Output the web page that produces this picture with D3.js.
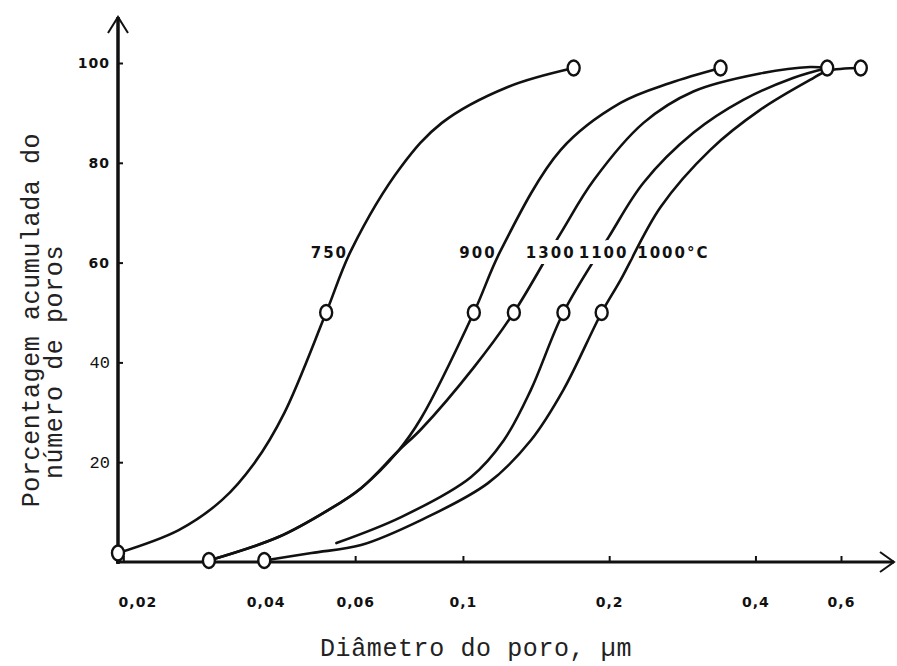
<!DOCTYPE html>
<html>
<head>
<meta charset="utf-8">
<script src="https://cdn.jsdelivr.net/npm/d3@7"></script>
<style>
  body { margin: 0; background: #fff; }
  .tickSans { font-family: "DejaVu Sans", sans-serif; font-weight: bold; font-size: 14px; letter-spacing: 1px; }
  .tickMono { font-family: "Liberation Mono", monospace; font-size: 17px; }
  .aText { font-family: "Liberation Mono", "DejaVu Sans Mono", monospace; font-size: 25px; letter-spacing: 0.6px; fill: #222; }
  .curveLabel { font-family: "DejaVu Sans", sans-serif; font-weight: bold; font-size: 15px; letter-spacing: 2px; fill: #111; }
</style>
</head>
<body>
<div id="chart"></div>
<script>
// tick values
var xTicks = [0.02, 0.04, 0.06, 0.1, 0.2, 0.4, 0.6];
var yTicks = [20, 40, 60, 80, 100];

// curves (diameter in um, cumulative %)
var s750x = [0.0195, 0.026, 0.0319, 0.0372, 0.0429, 0.0523, 0.0589, 0.0746, 0.0905, 0.1237, 0.169];
var s750y = [1.8, 6.4, 12.4, 19.8, 29.9, 50, 62.5, 79.2, 88, 95.2, 99];

var s900x = [0.030, 0.0417, 0.0528, 0.0617, 0.0735, 0.082, 0.1053, 0.1197, 0.159, 0.211, 0.267, 0.339];
var s900y = [0.3, 5, 10.4, 14.8, 22.2, 28.8, 50, 62.5, 82.6, 92, 96, 99];

var s1300x = [0.030, 0.0417, 0.0528, 0.0617, 0.0735, 0.082, 0.1053, 0.1273, 0.159, 0.1858, 0.2353, 0.298, 0.409, 0.518, 0.562];
var s1300y = [0.3, 5, 10.4, 14.8, 22.2, 26.6, 39, 50, 65.9, 76.5, 88, 94.3, 97.9, 99.2, 99];

var s1100x = [0.0549, 0.0746, 0.1038, 0.1214, 0.138, 0.161, 0.1995, 0.2353, 0.298, 0.3776, 0.478, 0.562];
var s1100y = [3.8, 9, 17, 24.4, 34.5, 50, 65.1, 76, 86, 92.6, 97, 99];

var s1000x = [0.039, 0.0488, 0.0617, 0.082, 0.1126, 0.138, 0.161, 0.193, 0.211, 0.255, 0.323, 0.409, 0.518, 0.562, 0.659];
var s1000y = [0.3, 1.8, 3.4, 8.4, 15.8, 24.4, 34.5, 50, 56.5, 71.1, 82.6, 90.6, 96.6, 98.4, 99];

// open circles
var markerX = [0.0195, 0.0523, 0.169, 0.030, 0.1053, 0.339, 0.1273, 0.161, 0.562, 0.039, 0.193, 0.659];
var markerY = [1.8, 50, 99, 0.3, 50, 99, 50, 50, 99, 0.3, 50, 99];

// curve labels
var labelText = ["750", "900", "1300", "1100", "1000°C"];
var labelX = [0.0531, 0.1074, 0.1516, 0.1948, 0.2711];
var labelY = [61, 61, 61, 61, 61];
var gapLabels = ["1300", "1100"];

var svgWidth = 897;
var svgHeight = 666;

var svg = d3.select("#chart")
  .append("svg")
  .attr("width", svgWidth)
  .attr("height", svgHeight)
  .style("background", "#fff");

// scales
var xScale = d3.scaleLog()
  .domain([0.0195, 0.775])
  .range([118, 895]);

var yScale = d3.scaleLinear()
  .domain([0, 100])
  .range([562, 63]);

// axes
var xAxis = d3.axisBottom(xScale)
  .tickValues(xTicks)
  .tickSizeInner(-6)
  .tickSizeOuter(0)
  .tickPadding(35)
  .tickFormat(d => String(d).replace(".", ","));

var yAxis = d3.axisLeft(yScale)
  .tickValues(yTicks)
  .tickSizeInner(-5)
  .tickSizeOuter(0)
  .tickPadding(8);

var gx = svg.append("g")
  .attr("transform", `translate(0, ${yScale(0)})`)
  .call(xAxis);
gx.select(".domain").remove();
gx.selectAll("line").attr("stroke", "#111").attr("stroke-width", 2);
gx.selectAll("text")
  .attr("class", "tickSans")
  .attr("fill", "#111")
  .attr("dx", d => d === 0.02 ? 14 : (d === 0.04 ? -4 : 0));

var gy = svg.append("g")
  .attr("transform", `translate(${xScale.range()[0]}, 0)`)
  .call(yAxis);
gy.select(".domain").remove();
gy.selectAll("line").attr("stroke", "#111").attr("stroke-width", 2);
gy.selectAll("text")
  .attr("class", d => d >= 60 ? "tickSans" : "tickMono")
  .attr("fill", "#111");

// axis lines with open arrow heads
var x0 = xScale.range()[0], x1 = xScale.range()[1];
var y0 = yScale(0), yTop = 17;

svg.append("line")
  .attr("x1", x0 - 2).attr("y1", y0)
  .attr("x2", x1 - 1).attr("y2", y0)
  .attr("stroke", "#111").attr("stroke-width", 3);
svg.append("path")
  .attr("d", `M${x1 - 15},${y0 - 10} L${x1 - 1},${y0} L${x1 - 15},${y0 + 10}`)
  .attr("fill", "none").attr("stroke", "#111").attr("stroke-width", 2);

svg.append("line")
  .attr("x1", x0).attr("y1", y0 + 2)
  .attr("x2", x0).attr("y2", yTop)
  .attr("stroke", "#111").attr("stroke-width", 3.5);
svg.append("path")
  .attr("d", `M${x0 - 10},${yTop + 16} L${x0},${yTop} L${x0 + 10},${yTop + 16}`)
  .attr("fill", "none").attr("stroke", "#111").attr("stroke-width", 2);

// curves
var series = [
  {xs: s750x, ys: s750y},
  {xs: s900x, ys: s900y},
  {xs: s1300x, ys: s1300y},
  {xs: s1100x, ys: s1100y},
  {xs: s1000x, ys: s1000y}
];

var line = d3.line()
  .x(d => xScale(d[0]))
  .y(d => yScale(d[1]))
  .curve(d3.curveCatmullRom.alpha(0.5));

svg.selectAll(".curve")
  .data(series)
  .enter()
  .append("path")
  .classed("curve", true)
  .attr("d", s => line(s.xs.map((x, i) => [x, s.ys[i]])))
  .attr("fill", "none")
  .attr("stroke", "#111")
  .attr("stroke-width", 2.6)
  .attr("stroke-linecap", "round");

// labels (1300 and 1100 break their lines)
svg.selectAll(".curveLabel")
  .data(labelText)
  .enter()
  .append("text")
  .attr("class", "curveLabel")
  .attr("x", (d, i) => xScale(labelX[i]))
  .attr("y", (d, i) => yScale(labelY[i]))
  .attr("text-anchor", "middle")
  .attr("stroke", d => gapLabels.includes(d) ? "#fff" : "none")
  .attr("stroke-width", 12)
  .attr("paint-order", "stroke")
  .text(d => d);

// markers
svg.selectAll(".marker")
  .data(markerX)
  .enter()
  .append("ellipse")
  .classed("marker", true)
  .attr("cx", d => xScale(d))
  .attr("cy", (d, i) => yScale(markerY[i]))
  .attr("rx", 6)
  .attr("ry", 7.5)
  .attr("fill", "#fff")
  .attr("stroke", "#111")
  .attr("stroke-width", 2.4);

// axis titles
svg.append("text")
  .attr("class", "aText")
  .attr("transform", "translate(39, 320) rotate(-90)")
  .attr("text-anchor", "middle")
  .text("Porcentagem acumulada do");

svg.append("text")
  .attr("class", "aText")
  .attr("transform", "translate(62, 362) rotate(-90)")
  .attr("text-anchor", "middle")
  .text("número de poros");

svg.append("text")
  .attr("class", "aText")
  .attr("x", 476)
  .attr("y", 656)
  .attr("text-anchor", "middle")
  .text("Diâmetro do poro, µm");
</script>
</body>
</html>
